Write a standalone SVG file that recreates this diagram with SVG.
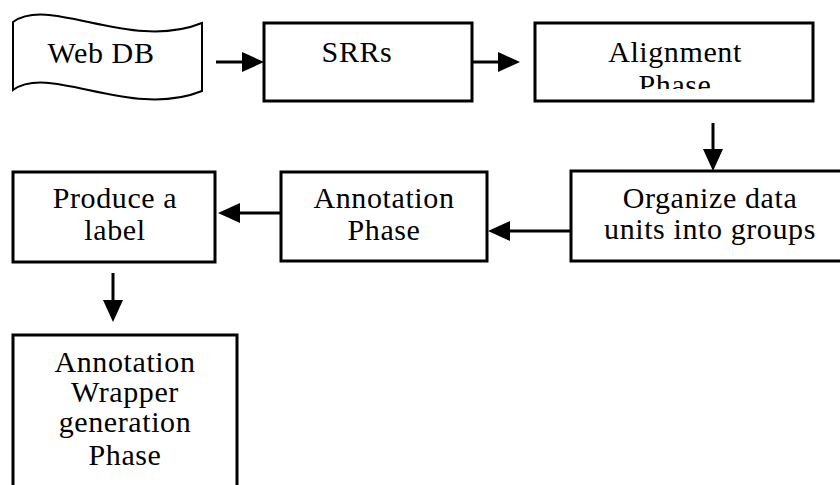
<svg xmlns="http://www.w3.org/2000/svg" width="840" height="485" viewBox="0 0 840 485">
  <defs>
    <style>
      .box { fill: #ffffff; stroke: #000000; stroke-width: 3; }
      .doc { fill: #ffffff; stroke: #000000; stroke-width: 2; }
      .lbl { font-family: "Liberation Serif", "Times New Roman", serif; font-size: 30px; letter-spacing: 0.6px; fill: #000000; text-anchor: middle; }
      .conn { stroke: #000000; stroke-width: 3; fill: none; }
    </style>
    <marker id="ah" viewBox="0 0 22 20" markerWidth="22" markerHeight="20" refX="0" refY="10" orient="auto" markerUnits="userSpaceOnUse">
      <path d="M0,0 L22,10 L0,20 z" fill="#000000"/>
    </marker>
    <clipPath id="clipAlign">
      <rect x="535" y="20" width="280" height="69"/>
    </clipPath>
  </defs>
  <rect x="0" y="0" width="840" height="485" fill="#ffffff"/>

  <g id="webdb">
    <path class="doc" d="M13,22 C50,-5 130,52 202,23 L202,91 C130,120 50,63 13,90 Z"/>
    <text class="lbl" x="101" y="63">Web DB</text>
  </g>

  <g id="srrs">
    <rect class="box" x="264" y="23" width="208" height="78"/>
    <text class="lbl" x="357" y="62">SRRs</text>
  </g>

  <g id="alignment">
    <rect class="box" x="535" y="23" width="278" height="78"/>
    <g clip-path="url(#clipAlign)">
      <text class="lbl" x="675" y="62">Alignment</text>
      <text class="lbl" x="675" y="95">Phase</text>
    </g>
  </g>

  <g id="organize">
    <rect class="box" x="571" y="171" width="272" height="90"/>
    <text class="lbl" x="710" y="208">Organize data</text>
    <text class="lbl" x="710" y="239">units into groups</text>
  </g>

  <g id="annotation">
    <rect class="box" x="281" y="172" width="206" height="89"/>
    <text class="lbl" x="384" y="208">Annotation</text>
    <text class="lbl" x="384" y="240">Phase</text>
  </g>

  <g id="produce">
    <rect class="box" x="13" y="172" width="202" height="90"/>
    <text class="lbl" x="115" y="208">Produce a</text>
    <text class="lbl" x="115" y="240">label</text>
  </g>

  <g id="wrapper">
    <rect class="box" x="13" y="335" width="224" height="200"/>
    <text class="lbl" x="125" y="372">Annotation</text>
    <text class="lbl" x="125" y="402">Wrapper</text>
    <text class="lbl" x="125" y="432">generation</text>
    <text class="lbl" x="125" y="465">Phase</text>
  </g>

  <g id="connectors">
    <line class="conn" x1="216" y1="62" x2="242" y2="62" marker-end="url(#ah)"/>
    <line class="conn" x1="473" y1="62" x2="498" y2="62" marker-end="url(#ah)"/>
    <line class="conn" x1="713" y1="123" x2="713" y2="149" marker-end="url(#ah)"/>
    <line class="conn" x1="570" y1="231" x2="510" y2="231" marker-end="url(#ah)"/>
    <line class="conn" x1="280" y1="213" x2="240" y2="213" marker-end="url(#ah)"/>
    <line class="conn" x1="113" y1="273" x2="113" y2="300" marker-end="url(#ah)"/>
  </g>
</svg>
